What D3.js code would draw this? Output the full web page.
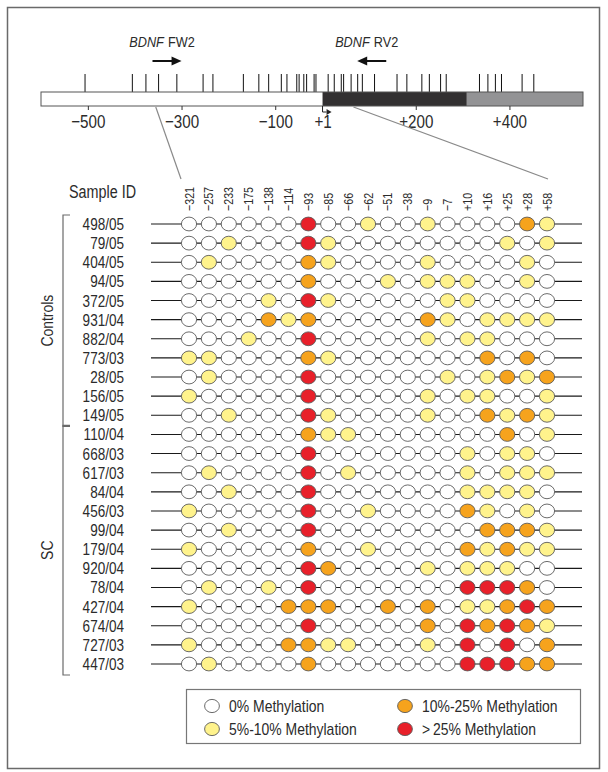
<!DOCTYPE html>
<html>
<head>
<meta charset="utf-8">
<script src="https://cdn.jsdelivr.net/npm/d3@7"></script>
<style>
  html, body { margin: 0; padding: 0; background: #fff; }
  svg { display: block; }
  text { font-family: "Liberation Sans", Arial, sans-serif; fill: #2b2b2b; }
</style>
</head>
<body>
<svg id="chart" width="608" height="772"></svg>
<script>
// CpG sites analysed by bisulfite sequencing (position relative to the transcription start)
const cpgLabels = ["\u2212321", "\u2212257", "\u2212233", "\u2212175", "\u2212138", "\u2212114", "\u221293", "\u221285",
  "\u221266", "\u221262", "\u221251", "\u221238", "\u22129", "\u22127", "+10", "+16", "+25", "+28", "+58"];

const sampleIds = ["498/05", "79/05", "404/05", "94/05", "372/05", "931/04", "882/04", "773/03", "28/05", "156/05", "149/05",
  "110/04", "668/03", "617/03", "84/04", "456/03", "99/04", "179/04", "920/04", "78/04", "427/04", "674/04", "727/03", "447/03"];

const groupNames = ["Controls", "SC"];
const groupSizes = [11, 13];

// methylation level per sample and site: 0 = 0%, 1 = 5%-10%, 2 = 10%-25%, 3 = >25%
const methylation = [
  [0,0,0,0,0,0,3,0,0,1,0,0,1,0,0,0,0,2,1],
  [0,0,1,0,0,0,3,1,0,0,0,0,0,0,0,0,1,0,1],
  [0,1,0,0,0,0,2,1,0,0,0,0,1,0,0,0,0,1,0],
  [0,0,0,0,0,0,2,0,0,0,1,0,1,1,1,0,0,1,0],
  [0,0,0,0,1,0,3,1,0,0,0,0,0,1,1,0,0,0,0],
  [0,0,0,0,2,1,2,0,0,0,0,0,2,1,0,1,1,1,1],
  [0,0,0,1,0,0,3,0,0,0,0,0,1,0,1,1,0,0,0],
  [1,1,0,0,0,0,2,1,0,0,0,0,0,0,0,2,0,2,0],
  [0,1,0,0,0,0,3,0,0,0,0,0,0,1,0,1,2,1,2],
  [1,0,0,0,0,0,3,0,0,0,0,0,1,0,1,1,0,0,1],
  [0,0,1,0,0,0,3,1,0,0,0,0,1,0,0,2,1,2,1],
  [0,0,0,0,0,0,2,1,1,0,0,0,0,0,0,0,2,0,1],
  [0,0,0,0,0,0,3,0,0,0,0,0,0,0,1,0,1,1,0],
  [0,1,0,0,0,0,3,0,1,0,0,0,0,0,1,0,1,1,1],
  [0,0,1,0,0,0,3,0,0,0,0,0,0,0,1,1,1,1,0],
  [1,0,0,0,0,0,3,0,0,1,0,0,0,0,2,1,0,1,0],
  [0,0,1,0,0,0,3,0,0,0,0,0,0,0,0,2,2,2,1],
  [1,0,0,0,0,0,2,0,0,1,0,0,0,0,2,1,2,1,1],
  [0,0,0,0,0,0,3,2,0,0,0,0,1,0,1,1,1,0,0],
  [0,1,0,0,1,0,3,0,0,0,0,0,0,0,3,3,3,2,0],
  [1,0,0,0,0,2,2,2,0,0,2,0,2,0,1,1,2,3,2],
  [0,0,0,0,0,0,3,0,0,0,0,0,2,0,3,2,3,2,1],
  [1,0,0,0,0,2,2,1,1,0,0,0,1,0,3,0,3,0,2],
  [0,1,0,0,0,0,2,0,0,0,0,0,0,0,3,3,3,2,2]
];

const levelLabels = ["0% Methylation", "5%-10% Methylation", "10%-25% Methylation", ">\u200925% Methylation"];
const levelColors = ["#ffffff", "#fff38c", "#f6a31d", "#e8202a"];

// gene map: region boundaries (bp), CpG positions, axis ticks, primers
const regionBounds = [-600, 1, 309, 557];
const regionFills = ["#ffffff", "#323031", "#939395"];
const cpgSites = [-506, -405, -376, -349, -310, -254, -233, -168, -135, -114, -87, -75, -54, -49, -39, -33,
  -17, -13, 13, 26, 41, 46, 62, 76, 86, 112, 160, 181, 213, 229, 253, 265, 336, 354, 370, 383, 427, 452];
const axisTicks = [-500, -300, -100, 1, 200, 400];
const geneName = "BDNF";
const primerNames = ["FW2", "RV2"];
const primerSpans = [[-362, -300], [75, 137]];   // 5' -> 3' direction of each primer arrow
const zoomSpan = [-355, 67];                       // stretch of the map expanded below

// condensed lettering: squeeze each label horizontally to a narrow face
const NARROW = 0.82;
function narrow(sel) {
  sel.each(function () {
    const len = this.getComputedTextLength();
    this.setAttribute("textLength", (len * NARROW).toFixed(2));
    this.setAttribute("lengthAdjust", "spacingAndGlyphs");
  });
  return sel;
}

const svg = d3.select("#chart");

// outer frame
svg.append("rect").attr("x", 7.5).attr("y", 7.5).attr("width", 592).attr("height", 761)
  .attr("fill", "none").attr("stroke", "#6a6a6a").attr("stroke-width", 1.5);

// ---------- gene map ----------
const gx = d3.scaleLinear().domain([regionBounds[0], regionBounds[regionBounds.length - 1]]).range([41, 583]);
const barTop = 92, barBottom = 106;

svg.append("g").selectAll("line").data(cpgSites).join("line")
  .attr("x1", d => gx(d)).attr("x2", d => gx(d))
  .attr("y1", 74).attr("y2", barTop)
  .attr("stroke", "#111").attr("stroke-width", 1);

svg.append("g").selectAll("rect").data(d3.range(regionBounds.length - 1)).join("rect")
  .attr("x", i => gx(regionBounds[i])).attr("y", barTop)
  .attr("width", i => gx(regionBounds[i + 1]) - gx(regionBounds[i]))
  .attr("height", barBottom - barTop)
  .attr("fill", i => regionFills[i]);
svg.append("rect").attr("x", gx(regionBounds[0])).attr("y", barTop)
  .attr("width", gx(regionBounds[regionBounds.length - 1]) - gx(regionBounds[0])).attr("height", barBottom - barTop)
  .attr("fill", "none").attr("stroke", "#555").attr("stroke-width", 1);

const axis = d3.axisBottom(gx).tickValues(axisTicks).tickSize(4).tickPadding(5)
  .tickFormat(d => d > 0 ? "+" + d : "\u2212" + Math.abs(d));
const axG = svg.append("g").attr("transform", `translate(0,${barBottom})`).call(axis);
axG.select(".domain").remove();
axG.selectAll(".tick line").attr("stroke", "#333").attr("opacity", d => d === 1 ? 0 : 1);
narrow(axG.selectAll(".tick text").attr("font-size", 18.5).attr("font-family", null).attr("fill", "#2b2b2b"));

// transcription start arrow
const tss = gx(regionBounds[1]);
svg.append("path").attr("d", `M${tss},${barBottom} V${barBottom + 6} H${tss + 4}`)
  .attr("fill", "none").attr("stroke", "#222").attr("stroke-width", 1);
svg.append("path").attr("d", `M${tss + 4},${barBottom + 3} L${tss + 9},${barBottom + 6} L${tss + 4},${barBottom + 9}Z`)
  .attr("fill", "#222");

// primers: arrow plus an italic gene name followed by the primer name
primerSpans.forEach((s, i) => {
  const x0 = gx(s[0]), x1 = gx(s[1]);
  const dir = i === 0 ? 1 : -1;
  const tail = dir > 0 ? x0 : x1, head = dir > 0 ? x1 : x0;
  svg.append("line").attr("x1", tail).attr("x2", head - dir * 7).attr("y1", 61).attr("y2", 61)
    .attr("stroke", "#111").attr("stroke-width", 2);
  svg.append("path").attr("d", `M${head},61 L${head - dir * 10},56.5 L${head - dir * 10},65.5Z`).attr("fill", "#111");

  // set in full width, then the whole label group is squeezed horizontally
  const g = svg.append("g");
  const gene = g.append("text").attr("x", 0).attr("y", 47).attr("font-size", 15.5)
    .attr("font-style", "italic").text(geneName);
  const w1 = gene.node().getComputedTextLength();
  const name = g.append("text").attr("x", w1 + 5).attr("y", 47).attr("font-size", 15.5).text(primerNames[i]);
  const total = (w1 + 5 + name.node().getComputedTextLength()) * NARROW;
  g.attr("transform", `translate(${(x0 + x1) / 2 - 5 - total / 2},0) scale(${NARROW},1)`);
});

// ---------- methylation grid ----------
const x = d3.scalePoint().domain(cpgLabels).range([189, 547]);
const y = d3.scalePoint().domain(sampleIds).range([224, 664]);

// connectors from the map to the expanded site columns
svg.append("line").attr("x1", gx(zoomSpan[0])).attr("y1", barBottom + 1).attr("x2", 181).attr("y2", 179)
  .attr("stroke", "#8a8a8a").attr("stroke-width", 1.2);
svg.append("line").attr("x1", gx(zoomSpan[1])).attr("y1", barBottom + 1).attr("x2", 548).attr("y2", 179)
  .attr("stroke", "#8a8a8a").attr("stroke-width", 1.2);

narrow(svg.append("text").attr("x", 136).attr("y", 198).attr("text-anchor", "end").attr("font-size", 17.5).text("Sample ID"));

narrow(svg.append("g").selectAll("text").data(cpgLabels).join("text")
  .attr("transform", d => `translate(${x(d) + 4.5},211) rotate(-90)`)
  .attr("text-anchor", "start").attr("font-size", 13).text(d => d));

const rows = svg.append("g").selectAll("g").data(sampleIds).join("g")
  .attr("transform", d => `translate(0,${y(d)})`);
rows.append("line").attr("x1", 151).attr("x2", 582).attr("y1", 0).attr("y2", 0)
  .attr("stroke", "#1a1a1a").attr("stroke-width", 1.1);
narrow(rows.append("text").attr("x", 124).attr("y", 6).attr("text-anchor", "end").attr("font-size", 16.5).text(d => d));
rows.selectAll("ellipse").data((d, i) => methylation[i].map((v, j) => ({ v, site: cpgLabels[j] }))).join("ellipse")
  .attr("cx", d => x(d.site)).attr("cy", 0).attr("rx", 7.6).attr("ry", 6.9)
  .attr("fill", d => levelColors[d.v]).attr("stroke", "#5a5a5a").attr("stroke-width", 0.9);

// group brackets
let start = 0;
groupNames.forEach((g, i) => {
  const first = sampleIds[start], last = sampleIds[start + groupSizes[i] - 1];
  const y0 = y(first) - 9, y1 = y(last) + 11;
  svg.append("path").attr("d", `M70,${y0} H63 V${y1} H70`).attr("fill", "none")
    .attr("stroke", "#6a6a6a").attr("stroke-width", 1.2);
  narrow(svg.append("text").attr("transform", `translate(53,${(y0 + y1) / 2}) rotate(-90)`)
    .attr("text-anchor", "middle").attr("font-size", 17).text(g));
  start += groupSizes[i];
});

// ---------- legend ----------
svg.append("rect").attr("x", 186.5).attr("y", 689.5).attr("width", 394).attr("height", 54)
  .attr("fill", "#fff").attr("stroke", "#777").attr("stroke-width", 1.2);
const lg = svg.append("g").selectAll("g").data(levelLabels).join("g")
  .attr("transform", (d, i) => `translate(${i < 2 ? 212 : 405},${i % 2 === 0 ? 706 : 729})`);
lg.append("ellipse").attr("rx", 7.4).attr("ry", 6.6)
  .attr("fill", (d, i) => levelColors[i]).attr("stroke", "#5a5a5a").attr("stroke-width", 0.9);
narrow(lg.append("text").attr("x", 17).attr("y", 6).attr("font-size", 17).text(d => d));
</script>
</body>
</html>
